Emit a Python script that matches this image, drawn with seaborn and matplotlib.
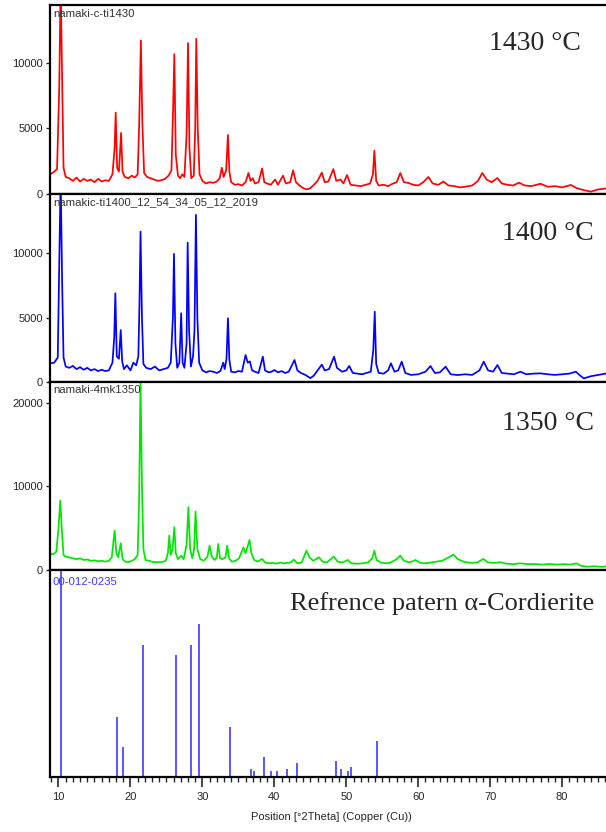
import matplotlib
matplotlib.use("Agg")
import matplotlib.pyplot as plt
import seaborn as sns
import pandas as pd
from matplotlib.ticker import MultipleLocator

# 1430 C pattern (2theta, counts)
t1430 = [8.8, 9.3, 9.8, 10.1, 10.3, 10.5, 10.7, 11.0, 11.5, 12.0, 12.5, 13.0, 13.5, 14.0, 14.5, 15.0,
         15.5, 16.0, 16.5, 17.0, 17.5, 17.8, 17.95, 18.15, 18.4, 18.7, 18.9, 19.2, 19.7, 20.2, 20.6,
         21.0, 21.2, 21.45, 21.65, 21.9, 22.3, 22.8, 23.3, 23.8, 24.3, 24.8, 25.3, 25.7, 25.95, 26.1,
         26.3, 26.6, 26.9, 27.2, 27.5, 27.8, 28.0, 28.2, 28.45, 28.8, 29.0, 29.15, 29.35, 29.6, 30.0,
         30.5, 31.0, 31.5, 32.0, 32.4, 32.7, 32.95, 33.3, 33.55, 33.75, 34.0, 34.5, 35.0, 35.5, 36.0,
         36.4, 36.7, 37.0, 37.3, 37.8, 38.3, 38.6, 39.0, 39.5, 40.1, 40.5, 41.2, 41.6, 42.2, 42.6,
         43.0, 43.5, 44.0, 44.5, 45.0, 45.5, 46.0, 46.6, 47.0, 47.5, 48.2, 48.6, 49.2, 49.6, 50.1,
         50.6, 51.3, 52.0, 52.7, 53.3, 53.7, 53.9, 54.15, 54.5, 55.2, 55.8, 56.5, 57.0, 57.5, 58.0,
         58.6, 59.3, 60.0, 60.7, 61.4, 62.0, 62.8, 63.5, 64.2, 65.0, 65.8, 66.5, 67.5, 68.3, 68.9,
         69.5, 70.2, 71.0, 71.6, 72.4, 73.2, 74.0, 74.8, 75.7, 77.0, 78.0, 79.0, 80.0, 81.2, 82.0,
         83.0, 84.0, 85.0, 86.2, 87.0]
i1430 = [1500, 1650, 1900, 8000, 16000, 9000, 2000, 1300, 1200, 1000, 1250, 950, 1150, 1000, 1100, 900,
         1150, 950, 1050, 1000, 1500, 3500, 6200, 2000, 1700, 4650, 1700, 1300, 1200, 1400, 1250,
         1500, 5000, 11700, 5500, 1600, 1300, 1200, 1100, 1000, 1050, 1150, 1400, 1800, 7000, 10650,
         3000, 1400, 1200, 1500, 1300, 4500, 11500, 3500, 1200, 1400, 5000, 11830, 5000, 1500, 1000,
         800, 900, 850, 950, 1200, 2000, 1300, 1800, 4500, 1700, 900, 700, 750, 650, 900,
         1600, 1000, 1200, 800, 900, 1950, 900, 800, 700, 1100, 700, 1400, 800, 900, 1800,
         900, 650, 450, 350, 450, 700, 1000, 1630, 900, 950, 1900, 1000, 1100, 800, 1450,
         700, 650, 600, 700, 800, 1500, 3300, 1000, 650, 700, 600, 800, 900, 1600, 900,
         850, 700, 650, 900, 1300, 800, 700, 950, 650, 600, 500, 550, 650, 1000, 1600,
         1100, 900, 1220, 800, 700, 650, 860, 650, 600, 780, 550, 600, 500, 690, 450,
         300, 180, 350, 430, 450]

# 1400 C pattern
t1400 = [8.8, 9.4, 9.9, 10.1, 10.3, 10.5, 10.7, 11.0, 11.5, 12.0, 12.5, 13.0, 13.5, 14.0, 14.5, 15.0,
         15.5, 16.0, 16.5, 17.0, 17.5, 17.75, 17.9, 18.1, 18.4, 18.65, 18.85, 19.1, 19.5, 20.0, 20.4,
         20.8, 21.1, 21.25, 21.4, 21.6, 21.8, 22.2, 22.8, 23.4, 24.0, 24.6, 25.2, 25.6, 25.9, 26.05,
         26.25, 26.5, 26.8, 27.05, 27.25, 27.5, 27.8, 27.95, 28.15, 28.4, 28.7, 28.9, 29.1, 29.3, 29.55,
         30.0, 30.5, 31.0, 31.5, 32.0, 32.5, 32.9, 33.1, 33.35, 33.55, 33.75, 34.0, 34.5, 35.0, 35.5,
         36.0, 36.3, 36.6, 36.9, 37.3, 37.8, 38.4, 38.7, 39.2, 39.6, 40.0, 40.5, 41.0, 41.5, 42.0,
         42.8, 43.2, 43.7, 44.3, 45.0, 45.5, 46.0, 46.6, 47.0, 47.6, 48.3, 48.7, 49.4, 50.0, 50.4,
         50.9, 51.5, 52.2, 52.8, 53.4, 53.75, 53.95, 54.15, 54.5, 55.2, 55.8, 56.2, 56.7, 57.2, 57.7,
         58.2, 59.0, 60.0, 61.0, 61.7, 62.3, 63.0, 63.8, 64.5, 65.5, 66.5, 67.5, 68.5, 69.1, 69.7,
         70.4, 71.0, 71.6, 72.5, 73.3, 74.2, 75.0, 76.0, 77.0, 78.0, 79.0, 80.0, 81.0, 81.9, 82.5,
         83.0, 84.0, 85.0, 86.2, 87.0]
i1400 = [1450, 1500, 1900, 9000, 16000, 8000, 1900, 1200, 1100, 1250, 1000, 1150, 950, 1100, 900, 1000,
         850, 950, 850, 900, 1500, 3500, 6890, 2000, 1800, 4040, 1600, 1000, 1300, 900, 1500,
         1300, 2000, 6000, 11680, 5000, 1400, 1100, 1000, 1200, 900, 1000, 1100, 1500, 5000, 9950,
         3000, 1100, 1500, 5340, 1500, 1100, 3000, 10820, 4000, 1200, 2000, 4000, 12980, 5000, 1500,
         900, 750, 850, 800, 700, 850, 1500, 1000, 1800, 4950, 1700, 800, 750, 850, 800,
         2100, 1500, 1600, 900, 800, 700, 1970, 900, 750, 800, 930, 750, 850, 700, 800,
         1710, 900, 700, 550, 300, 500, 900, 1350, 900, 1000, 1970, 1100, 800, 900, 1250,
         700, 650, 600, 700, 800, 2500, 5460, 1400, 700, 650, 900, 1450, 800, 900, 1580,
         700, 550, 600, 800, 1240, 700, 750, 1190, 600, 540, 600, 550, 900, 1580, 900,
         800, 1320, 700, 650, 600, 800, 600, 650, 670, 600, 550, 600, 650, 800, 500,
         280, 450, 550, 670, 650]

# 1350 C pattern
t1350 = [8.8, 9.3, 9.7, 10.0, 10.25, 10.45, 10.7, 11.0, 11.5, 12.0, 12.5, 13.0, 13.5, 14.0, 14.5, 15.0,
         15.5, 16.0, 16.5, 17.0, 17.4, 17.8, 18.05, 18.3, 18.65, 18.9, 19.3, 19.7, 20.2, 20.6, 21.0,
         21.2, 21.4, 21.6, 21.8, 22.1, 22.6, 23.2, 23.8, 24.4, 24.9, 25.2, 25.4, 25.6, 25.85, 26.1,
         26.3, 26.6, 27.05, 27.4, 27.8, 28.05, 28.3, 28.6, 28.85, 29.05, 29.3, 29.7, 30.2, 30.7, 31.0,
         31.3, 31.7, 32.0, 32.2, 32.45, 32.8, 33.2, 33.45, 33.7, 34.1, 34.6, 35.1, 35.7, 36.0, 36.55,
         36.8, 37.2, 37.7, 38.3, 38.7, 39.2, 39.8, 40.3, 40.8, 41.3, 41.8, 42.3, 42.7, 43.2, 43.8,
         44.45, 44.9, 45.4, 46.2, 46.7, 47.3, 48.25, 48.8, 49.5, 50.2, 50.7, 51.5, 52.3, 53.0, 53.6,
         53.9, 54.2, 54.8, 55.5, 56.2, 57.0, 57.5, 58.0, 58.8, 59.6, 60.3, 61.0, 61.8, 62.6, 63.3,
         64.0, 64.9, 65.5, 66.3, 67.2, 68.2, 69.05, 69.7, 70.5, 71.4, 72.3, 73.2, 74.2, 75.2, 76.2,
         77.2, 78.2, 79.2, 80.2, 81.2, 82.0, 82.6, 83.5, 84.5, 85.5, 86.2, 87.0]
i1350 = [1920, 1900, 2200, 5000, 8320, 5000, 1800, 1600, 1500, 1400, 1300, 1400, 1200, 1250, 1100, 1150,
         1050, 1100, 1000, 1100, 1500, 4720, 2000, 1500, 3200, 1300, 1000, 930, 1100, 1300, 1800,
         8000, 23000, 10000, 2500, 1200, 1100, 950, 930, 950, 1100, 2000, 4120, 1800, 2500, 5120,
         2000, 1300, 1720, 1300, 3000, 7520, 2500, 1400, 2500, 7000, 2500, 1300, 1100, 1600, 2920,
         1600, 1200, 1500, 3120, 1400, 1300, 1500, 2920, 1400, 1000, 1100, 1400, 2720, 2000, 3600,
         2000, 1200, 1000, 1320, 900, 800, 850, 750, 900, 800, 850, 900, 1250, 800, 900,
         2320, 1500, 1100, 1520, 1000, 900, 1600, 1000, 900, 1200, 800, 750, 800, 900, 1400,
         2320, 1200, 900, 800, 900, 1300, 1720, 1100, 900, 1200, 850, 800, 900, 1000, 1100,
         1400, 1840, 1300, 1000, 850, 900, 1320, 900, 850, 930, 750, 700, 800, 700, 720,
         650, 720, 650, 700, 650, 800, 500, 400, 450, 380, 450, 420]

# reference alpha-cordierite 00-012-0235 (2theta, relative intensity)
ref_pos = [10.4, 18.1, 19.0, 21.7, 26.4, 28.4, 29.5, 33.9, 36.8, 37.2, 38.6, 39.5, 40.4,
           41.7, 43.1, 47.1, 48.6, 49.2, 50.3, 50.6, 54.2]
ref_int = [100, 29, 14.5, 64, 59, 64, 74, 24, 4, 3, 9.5, 3, 3,
           4, 7, 0.6, 7.5, 4, 3, 5, 17.5]

scans = ["namaki-c-ti1430", "namakic-ti1400_12_54_34_05_12_2019", "namaki-4mk1350"]
temps = ["1430 °C", "1400 °C", "1350 °C"]
colors = ["#ff0000", "#0000ff", "#00e600"]
yticks = [[0, 5000, 10000], [0, 5000, 10000], [0, 10000, 20000]]
ytops = [14400, 14600, 22500]

sns.set_style("white")
plt.rcParams["font.family"] = ["Liberation Sans", "DejaVu Sans"]

fig = plt.figure(figsize=(6.06, 8.32), dpi=100)
gs = fig.add_gridspec(4, 1, height_ratios=[189, 188, 188, 207], hspace=0,
                      left=50 / 606, right=1.012, top=1 - 5 / 832, bottom=1 - 777 / 832)
axes = [fig.add_subplot(gs[i]) for i in range(4)]

data = [(t1430, i1430), (t1400, i1400), (t1350, i1350)]
for k, (tt, ii) in enumerate(data):
    ax = axes[k]
    df = pd.DataFrame({"pos": tt, "counts": ii})
    sns.lineplot(data=df, x="pos", y="counts", ax=ax, color=colors[k], lw=1.25,
                 estimator=None, sort=False)
    ax.set_ylim(0, ytops[k])
    ax.set_yticks(yticks[k])
    ax.text(0.005, 0.955, scans[k], transform=ax.transAxes, fontsize=8.2,
            color="#333333", va="center", ha="left")

ref = pd.DataFrame({"pos": ref_pos, "rel": ref_int})
axr = axes[3]
axr.vlines(ref["pos"], 0, ref["rel"], color="#4a4aff", lw=1.3)
axr.set_ylim(0, 100)
axr.set_yticks([])
axr.text(0.005, 0.94, "00-012-0235", transform=axr.transAxes, fontsize=8.2,
         color="#3a3aff", va="center", ha="left")

for ax in axes:
    ax.set_xlim(8.82, 87.1)
    ax.set_xlabel("")
    ax.set_ylabel("")
    for s in ax.spines.values():
        s.set_linewidth(1.6)
        s.set_color("black")
    ax.tick_params(axis="y", direction="out", length=3, width=1, labelsize=8, pad=2, left=True)
    ax.xaxis.set_major_locator(MultipleLocator(10))
    ax.xaxis.set_minor_locator(MultipleLocator(1))

for ax in axes[:3]:
    ax.tick_params(axis="x", which="both", length=0, labelbottom=False)

axr.tick_params(axis="x", which="major", direction="out", length=7, width=1.2,
                labelsize=8, pad=4, bottom=True)
axr.tick_params(axis="x", which="minor", direction="out", length=3.5, width=1, bottom=True)
axr.set_xlabel("Position [°2Theta] (Copper (Cu))", fontsize=8, labelpad=7)

serif = ["Liberation Serif", "DejaVu Serif"]
fig.text(489 / 606, 1 - 43 / 832, temps[0], family=serif, fontsize=20, va="center", ha="left")
fig.text(502 / 606, 1 - 233 / 832, temps[1], family=serif, fontsize=20, va="center", ha="left")
fig.text(502 / 606, 1 - 423 / 832, temps[2], family=serif, fontsize=20, va="center", ha="left")
fig.text(290 / 606, 1 - 604 / 832, "Refrence patern α-Cordierite", family=serif,
         fontsize=19, va="center", ha="left")

fig.savefig("out.png", dpi=100)
